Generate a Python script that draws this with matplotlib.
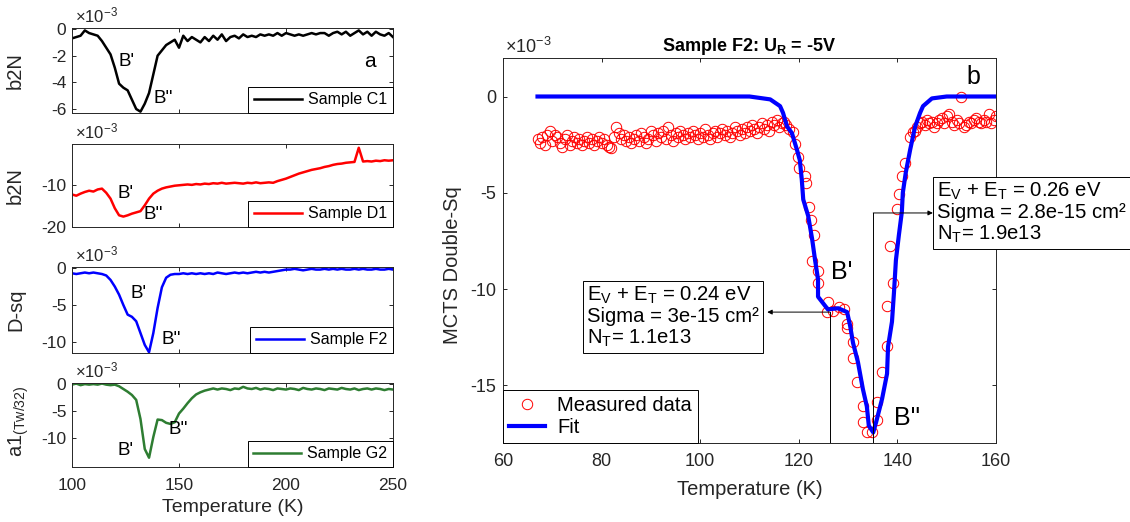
import matplotlib
matplotlib.use('Agg')
import matplotlib.pyplot as plt
import numpy as np

plt.rcParams['font.family'] = ['Liberation Sans', 'DejaVu Sans']
plt.rcParams['mathtext.fontset'] = 'custom'
plt.rcParams['mathtext.rm'] = 'Liberation Sans'
plt.rcParams['mathtext.it'] = 'Liberation Sans:italic'
plt.rcParams['mathtext.bf'] = 'Liberation Sans:bold'
plt.rcParams['axes.unicode_minus'] = False

# ---- left panels: values in units of 1e-3, T step 2 K ----
temp_left = np.arange(100, 251, 2)

c1 = [-0.7, -0.6, -0.5, -0.1, -0.3, -0.4, -0.5, -0.9, -1.4, -1.9,
      -2.9, -4.1, -4.4, -4.6, -5.3, -6.0, -6.2, -5.6, -4.8, -3.4,
      -2.0, -1.6, -1.2, -1.0, -0.8, -1.4, -0.5, -0.9, -0.6, -0.8,
      -1.0, -0.6, -0.9, -0.5, -0.8, -0.4, -0.9, -0.6, -0.5, -0.7,
      -0.4, -0.6, -0.5, -0.6, -0.4, -0.5, -0.4, -0.5, -0.3, -0.5,
      -0.3, -0.4, -0.5, -0.4, -0.5, -0.4, -0.3, -0.4, -0.3, -0.3,
      -0.5, -0.3, -0.2, -0.4, -0.2, -0.5, -0.3, -0.1, -0.4, -0.2,
      -0.5, -0.2, -0.4, -0.5, -0.3, -0.6]

d1 = [-12.2, -12.5, -12.0, -11.6, -11.3, -11.5, -11.0, -10.8, -11.8, -13.2,
      -15.5, -17.2, -17.5, -17.2, -16.8, -16.5, -16.2, -14.8, -13.2, -12.0,
      -11.3, -10.8, -10.5, -10.3, -10.1, -10.0, -9.9, -9.8, -9.9, -9.7,
      -9.8, -9.6, -9.7, -9.5, -9.6, -9.4, -9.6, -9.5, -9.4, -9.5,
      -9.6, -9.4, -9.5, -9.3, -9.5, -9.4, -9.3, -9.4, -9.0, -8.7,
      -8.4, -8.0, -7.6, -7.2, -6.9, -6.6, -6.3, -6.1, -5.9, -5.6,
      -5.4, -5.1, -4.9, -4.8, -4.6, -4.5, -4.4, -1.0, -4.3, -4.2,
      -4.3, -4.1, -4.2, -4.0, -4.1, -4.0]

f2 = [-0.7, -0.8, -0.7, -0.6, -0.7, -0.6, -0.7, -0.8, -1.0, -1.6,
      -2.5, -3.6, -5.0, -6.3, -6.6, -7.2, -8.8, -10.4, -11.4, -8.8,
      -5.4, -2.6, -1.3, -0.9, -0.8, -0.8, -0.7, -0.8, -0.7, -0.8,
      -0.7, -0.8, -0.7, -0.8, -0.6, -0.7, -0.8, -0.7, -0.6, -0.7,
      -0.6, -0.7, -0.6, -0.5, -0.6, -0.5, -0.6, -0.5, -0.4, -0.3,
      -0.2, -0.2, -0.1, -0.2, -0.3, -0.2, -0.1, -0.2, -0.2, -0.1,
      -0.2, -0.1, -0.2, -0.1, -0.2, -0.2, -0.1, -0.2, -0.1, -0.2,
      -0.2, -0.1, -0.2, -0.2, -0.1, -0.2]

g2 = [-0.2, 0.0, -0.3, -0.1, -0.2, -0.1, -0.2, 0.0, -0.2, -0.3,
      -0.2, -0.5, -1.0, -1.5, -2.1, -3.0, -6.5, -12.0, -13.6, -9.8,
      -6.6, -6.7, -7.2, -7.4, -7.1, -5.5, -4.6, -3.6, -2.7, -2.0,
      -1.6, -1.3, -1.1, -0.9, -1.1, -0.9, -1.0, -1.2, -0.9, -1.0,
      -0.6, -0.9, -1.0, -0.8, -1.1, -0.9, -1.0, -1.2, -0.9, -1.0,
      -1.1, -0.9, -1.0, -1.2, -0.8, -1.0, -1.1, -0.9, -1.0, -1.2,
      -0.9, -1.0, -1.1, -0.8, -1.0, -1.1, -0.9, -1.2, -1.0, -0.9,
      -1.1, -0.9, -1.0, -1.2, -1.0, -1.1]

left_series = [c1, d1, f2, g2]
left_colors = ['black', 'red', 'blue', '#2e7d32']
left_names = ['Sample C1', 'Sample D1', 'Sample F2', 'Sample G2']
left_ylabels = ['b2N', 'b2N', 'D-sq', r'a1$_{\mathrm{(Tw/32)}}$']
left_ylims = [(-6.3, 0.08), (-20, -0.1), (-11.5, 0.15), (-15.3, 0.1)]
left_yticks = [[-6, -4, -2, 0], [-20, -10], [-10, -5, 0], [-10, -5, 0]]
# (T, value) positions of the B' / B'' labels
left_bp = [(125.7, -2.4), (124.8, -11.9), (131, -3.4), (125, -12.2)]
left_bpp = [(142.5, -5.2), (138, -17.1), (146.5, -9.7), (149.6, -8.5)]

# ---- right panel: Sample F2, values in units of 1e-3 ----
flat_T = np.arange(67, 118.5, 0.5)
flat_V = [-2.2, -2.4, -2.1, -2.5, -2.0, -1.8, -2.3, -2.0, -2.1, -2.4,
          -2.6, -2.2, -2.0, -2.5, -2.3, -2.1, -2.4, -2.2, -2.5, -2.3,
          -2.1, -2.4, -2.2, -2.5, -2.3, -2.1, -2.4, -2.2, -2.5, -2.6,
          -2.7, -2.1, -1.6, -1.9, -2.2, -2.0, -2.3, -2.1, -2.4, -2.2,
          -2.0, -2.3, -1.9, -2.1, -2.4, -2.2, -1.8, -2.0, -2.3, -1.9,
          -2.1, -1.8, -2.2, -1.6, -2.0, -2.3, -1.9, -2.1, -1.8, -2.0,
          -2.2, -1.9, -2.1, -1.8, -2.0, -2.2, -1.9, -2.1, -1.7, -2.0,
          -2.2, -1.9, -1.8, -2.1, -1.9, -1.7, -2.0, -1.8, -2.1, -1.9,
          -1.6, -1.8, -2.0, -1.7, -1.9, -1.6, -1.8, -1.5, -1.7, -1.9,
          -1.6, -1.4, -1.7, -1.5, -1.8, -1.3, -1.5, -1.2, -1.6, -1.4,
          -1.3, -1.5, -1.7]
dip_T = [118.8, 119.2, 119.8, 120.0, 121.3, 121.5, 122.1, 122.5, 123.1, 122.7,
         123.9, 123.9, 125.9, 125.7, 126.9, 128.2, 129.2, 129.8, 129.8, 131.0,
         131.0, 131.8, 133.0, 133.0, 133.8, 134.8, 135.9, 135.9, 136.9, 137.9,
         137.9, 139.1, 138.5, 139.9, 140.3, 140.9, 141.5, 142.6, 143.2]
dip_V = [-1.87, -2.49, -3.12, -3.69, -4.15, -4.47, -5.76, -6.39, -7.17, -8.57,
         -9.09, -9.71, -10.70, -11.21, -11.16, -10.96, -11.06, -11.84, -12.05, -12.77,
         -13.60, -14.85, -16.10, -16.93, -17.45, -17.45, -16.82, -15.89, -14.33, -12.98,
         -10.90, -9.71, -7.79, -5.87, -5.04, -4.15, -3.43, -2.08, -1.87]
tail_T = np.arange(143.5, 160.5, 0.5)
tail_V = [-1.8, -1.6, -1.4, -1.3, -1.5, -1.2, -1.4, -1.3, -1.6, -1.4,
          -1.2, -1.1, -1.4, -1.0, -0.9, -1.3, -1.5, -1.2, -1.4, -0.05,
          -1.6, -1.5, -1.3, -1.4, -1.2, -1.1, -1.3, -1.4, -1.2, -1.3,
          -0.9, -1.4, -1.2, -1.0]
meas_T = np.concatenate([flat_T, dip_T, tail_T])
meas_V = np.concatenate([flat_V, dip_V, tail_V])

fit_T = [67, 110, 114.2, 116.2, 116.8, 117.6, 118.6, 119.6, 120.2, 120.6,
         120.9, 121.9, 122.7, 123.3, 123.9, 123.9, 125.9, 128.0, 129.8, 130.4,
         131.0, 132.0, 133.0, 133.8, 134.2, 135.1, 135.7, 136.9, 137.9, 138.1,
         138.9, 139.3, 139.7, 140.3, 140.9, 141.1, 141.7, 142.6, 143.6, 144.6,
         145.2, 147.0, 150.0, 160.0]
fit_V = [0, 0, -0.15, -0.5, -0.85, -1.55, -1.9, -2.75, -3.3, -4.3,
         -5.35, -6.2, -7.4, -8.5, -9.5, -10.4, -11.06, -11.0, -11.2, -11.9,
         -12.8, -13.8, -15.2, -16.1, -17.1, -17.45, -16.9, -15.7, -14.4, -13.0,
         -11.7, -10.2, -8.5, -7.2, -6.0, -5.0, -3.95, -2.75, -1.56, -0.85,
         -0.5, -0.1, 0, 0]

trap1 = 'E$_\\mathrm{V}$ + E$_\\mathrm{T}$ = 0.24 eV\nSigma = 3e-15 cm²\nN$_\\mathrm{T}$= 1.1e13'
trap2 = 'E$_\\mathrm{V}$ + E$_\\mathrm{T}$ = 0.26 eV\nSigma = 2.8e-15 cm²\nN$_\\mathrm{T}$= 1.9e13'

W, H = 1130, 522
txt = '#262626'


def px_axes(l, t, r, b):
    return fig.add_axes([l / W, 1 - b / H, (r - l) / W, (b - t) / H])


def style(ax, fs):
    ax.tick_params(direction='in', top=True, right=True, length=3, width=0.7,
                   labelsize=fs, colors=txt, labelcolor=txt)
    for s in ax.spines.values():
        s.set_linewidth(0.7)
        s.set_color(txt)


fig = plt.figure(figsize=(W / 100, H / 100), dpi=100)

boxes = [(72, 28, 393, 113), (72, 144, 393, 227), (72, 267, 393, 353), (72, 383, 393, 467)]
label_x = [-0.146, -0.146, -0.146, -0.128]
label_y = [0.5, 0.5, 0.5, 0.55]
for i, (l, t, r, b) in enumerate(boxes):
    ax = px_axes(l, t, r, b)
    ax.plot(temp_left, left_series[i], color=left_colors[i], lw=1.8, label=left_names[i])
    ax.set_xlim(100, 250)
    ax.set_ylim(*left_ylims[i])
    ax.set_xticks([100, 150, 200, 250])
    ax.set_yticks(left_yticks[i])
    style(ax, 12.5)
    ax.tick_params(axis='y', pad=4)
    ax.tick_params(axis='x', pad=8)
    if i < 3:
        ax.set_xticklabels([])
    else:
        ax.set_xlabel('Temperature (K)', fontsize=14, color=txt)
        ax.xaxis.set_label_coords(0.5, -0.38)
    ax.set_ylabel(left_ylabels[i], fontsize=14.5, color=txt)
    ax.yaxis.set_label_coords(label_x[i], label_y[i])
    ax.text(0.01, 1.03, '×10$^{-3}$', transform=ax.transAxes, fontsize=12,
            color=txt, va='bottom', ha='left')
    ax.text(*left_bp[i], "B'", fontsize=13.5, ha='center', va='center')
    ax.text(*left_bpp[i], "B''", fontsize=13.5, ha='center', va='center')
    leg = ax.legend(loc='lower right', borderaxespad=0, fontsize=11.5, handlelength=3.0,
                    handletextpad=0.4, fancybox=False, framealpha=1, borderpad=0.35)
    leg.get_frame().set_edgecolor('black')
    leg.get_frame().set_linewidth(0.7)
    if i == 0:
        ax.text(239, -2.4, 'a', fontsize=15, ha='center', va='center')

# right panel
ax = px_axes(503, 58, 996, 443)
ax.plot(meas_T, meas_V, 'o', mfc='none', mec='red', ms=7.5, mew=0.7,
        label='Measured data')
ax.plot(fit_T, fit_V, color='blue', lw=3, label='Fit')
ax.set_xlim(60, 160)
ax.set_ylim(-18, 2)
ax.set_xticks(np.arange(60, 161, 20))
ax.set_yticks([-15, -10, -5, 0])
style(ax, 13)
ax.tick_params(axis='x', pad=7)
ax.tick_params(axis='y', pad=5)
ax.set_xlabel('Temperature (K)', fontsize=14.5, color=txt)
ax.xaxis.set_label_coords(0.5, -0.095)
ax.set_ylabel('MCTS Double-Sq', fontsize=14.5, color=txt)
ax.yaxis.set_label_coords(-0.083, 0.462)
ax.set_title('Sample F2: U$_\\mathbf{R}$ = -5V', fontsize=13, fontweight='bold',
             color='black', pad=5)
ax.text(0.005, 1.003, '×10$^{-3}$', transform=ax.transAxes, fontsize=13,
        color=txt, va='bottom', ha='left')
ax.text(155.5, 1.0, 'b', fontsize=18, ha='center', va='center')
ax.text(128.8, -9.1, "B'", fontsize=18, ha='center', va='center')
ax.text(142, -16.7, "B''", fontsize=18, ha='center', va='center')

# trap annotations
ax.plot([126.3, 126.3], [-18, -11.2], color='black', lw=0.7)
ax.annotate('', xy=(113.6, -11.2), xytext=(126.3, -11.2),
            arrowprops=dict(arrowstyle='-|>', lw=0.7, color='black', mutation_scale=7,
                            shrinkA=0, shrinkB=0))
ax.text(77.0, -11.45, trap1, fontsize=14.6, ha='left', va='center', linespacing=1.1,
        bbox=dict(boxstyle='square,pad=0.2', fc='white', ec='black', lw=0.7), zorder=5)

ax.plot([135.1, 135.1], [-18, -6.05], color='black', lw=0.7)
ax.annotate('', xy=(147.2, -6.05), xytext=(135.1, -6.05),
            arrowprops=dict(arrowstyle='-|>', lw=0.7, color='black', mutation_scale=7,
                            shrinkA=0, shrinkB=0))
ax.text(148.0, -6.05, trap2, fontsize=14.6, ha='left', va='center', linespacing=1.1,
        bbox=dict(boxstyle='square,pad=0.2', fc='white', ec='black', lw=0.7),
        zorder=5, clip_on=False)

leg = ax.legend(loc='lower left', borderaxespad=0, fontsize=14.5, handlelength=1.8,
                handletextpad=0.6, fancybox=False, framealpha=1, numpoints=1,
                borderpad=0.3, labelspacing=0.15)
leg.get_frame().set_edgecolor('black')
leg.get_frame().set_linewidth(0.7)

fig.savefig('out.png', dpi=100)
